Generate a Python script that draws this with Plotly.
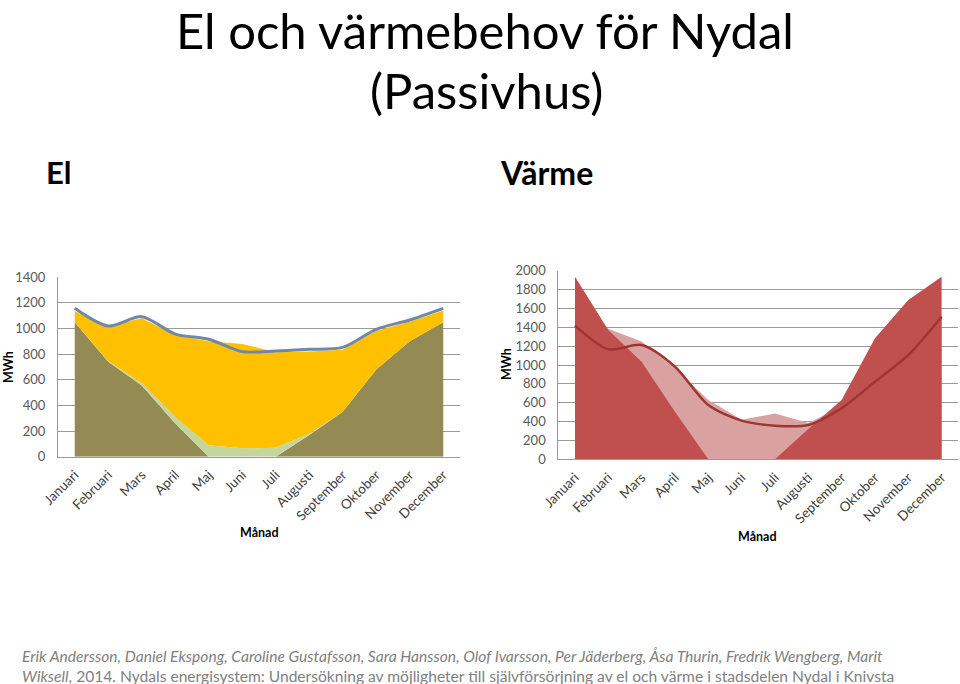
import plotly.graph_objects as go

months = ["Januari", "Februari", "Mars", "April", "Maj", "Juni", "Juli",
          "Augusti", "September", "Oktober", "November", "December"]

# El (left chart) - stacked areas + demand line
el_base = [1050, 740, 555, 260, 0, 0, 0, 170, 350, 680, 900, 1050]
el_green = [0, 5, 20, 50, 90, 65, 70, 10, 0, 0, 0, 0]
el_yellow = [85, 275, 505, 640, 810, 815, 745, 640, 485, 303, 154, 90]
el_demand = [1158, 1020, 1093, 957, 916, 820, 825, 838, 853, 994, 1067, 1158]

# Värme (right chart) - overlapping areas + line
heat_pink = [1600, 1385, 1250, 965, 630, 420, 485, 385, 560, 900, 1200, 1500]
heat_red = [1937, 1371, 1035, 505, 0, 0, 0, 320, 629, 1283, 1689, 1937]
heat_line = [1417, 1166, 1212, 982, 576, 410, 357, 364, 541, 823, 1106, 1512]

el_ticks = [0, 200, 400, 600, 800, 1000, 1200, 1400]
heat_ticks = [0, 200, 400, 600, 800, 1000, 1200, 1400, 1600, 1800, 2000]

W, H = 960, 684
FONT = "Lato"
GRID = "#9a9a9a"

fig = go.Figure()

# Left chart
fig.add_trace(go.Scatter(x=months, y=el_base, stackgroup="el", mode="none",
                         fillcolor="#948A54", xaxis="x", yaxis="y"))
fig.add_trace(go.Scatter(x=months, y=el_green, stackgroup="el", mode="none",
                         fillcolor="#C3D69B", xaxis="x", yaxis="y"))
fig.add_trace(go.Scatter(x=months, y=el_yellow, stackgroup="el", mode="none",
                         fillcolor="#FFC000", xaxis="x", yaxis="y"))
fig.add_trace(go.Scatter(x=months, y=el_demand, mode="lines",
                         line=dict(color="#6F88A8", width=3, shape="spline", smoothing=0.8),
                         xaxis="x", yaxis="y"))

# Right chart
fig.add_trace(go.Scatter(x=months, y=heat_pink, fill="tozeroy", mode="none",
                         fillcolor="#D9A2A1", xaxis="x2", yaxis="y2"))
fig.add_trace(go.Scatter(x=months, y=heat_red, fill="tozeroy", mode="none",
                         fillcolor="#C0504D", xaxis="x2", yaxis="y2"))
fig.add_trace(go.Scatter(x=months, y=heat_line, mode="lines",
                         line=dict(color="#9E3532", width=2.5, shape="spline", smoothing=0.8),
                         xaxis="x2", yaxis="y2"))

xcommon = dict(type="category", range=[-0.5, 11.5], tickangle=-45,
               showline=True, linecolor=GRID, linewidth=1, showgrid=False,
               ticks="outside", ticklen=4, tickcolor="rgba(0,0,0,0)",
               tickfont=dict(family=FONT, size=13.5, color="#404040"),
               fixedrange=True, automargin=False)
ycommon = dict(showline=True, linecolor=GRID, linewidth=1, showgrid=True,
               gridcolor=GRID, gridwidth=1, zeroline=False,
               ticks="outside", ticklen=9, tickcolor="rgba(0,0,0,0)",
               tickfont=dict(family=FONT, size=13, color="#595959"),
               fixedrange=True, automargin=False)

fig.update_layout(
    width=W, height=H,
    margin=dict(l=0, r=0, t=0, b=0),
    paper_bgcolor="white", plot_bgcolor="white",
    showlegend=False,
    xaxis=dict(xcommon, domain=[58 / W, 460 / W], anchor="y"),
    yaxis=dict(ycommon, domain=[1 - 456.7 / H, 1 - 277.3 / H], range=[0, 1400],
               tickvals=el_ticks, anchor="x"),
    xaxis2=dict(xcommon, domain=[558.3 / W, 958.3 / W], anchor="y2"),
    yaxis2=dict(ycommon, domain=[1 - 459.3 / H, 1 - 270.7 / H], range=[0, 2000],
                tickvals=heat_ticks, anchor="x2"),
)

def ann(text, x, y, size, color="black", bold=False, xanchor="center",
        yanchor="middle", angle=0, family=FONT, align="center"):
    t = f"<b>{text}</b>" if bold else text
    fig.add_annotation(text=t, x=x / W, y=1 - y / H, xref="paper", yref="paper",
                       showarrow=False, xanchor=xanchor, yanchor=yanchor, align=align,
                       textangle=angle, font=dict(family=family, size=size, color=color))

# Titles
ann("El och värmebehov för Nydal", 485, 30, 49)
ann("(Passivhus)", 486, 90, 49)
ann("El", 44, 172, 31, bold=True, xanchor="left")
ann("Värme", 498, 172, 32, bold=True, xanchor="left")

# Axis titles
ann("MWh", 8, 367, 12.5, color="#000000", bold=True, angle=-90)
ann("Månad", 259, 532, 12.5, color="#000000", bold=True)
ann("MWh", 506, 364, 12.5, color="#000000", bold=True, angle=-90)
ann("Månad", 757, 536, 12.5, color="#000000", bold=True)

# Footer (two lines in one text)
ann("<i>Erik Andersson, Daniel Ekspong, Caroline Gustafsson, Sara Hansson, Olof Ivarsson, "
    "Per Jäderberg, Åsa Thurin, Fredrik Wengberg, Marit</i><br>"
    "<i>Wiksell</i>, 2014. Nydals energisystem: Undersökning av möjligheter till "
    "självförsörjning av el och värme i stadsdelen Nydal i Knivsta", 20, 666, 15.6,
    color="#7F7F7F", xanchor="left", align="left")

fig.write_html("out.html")
